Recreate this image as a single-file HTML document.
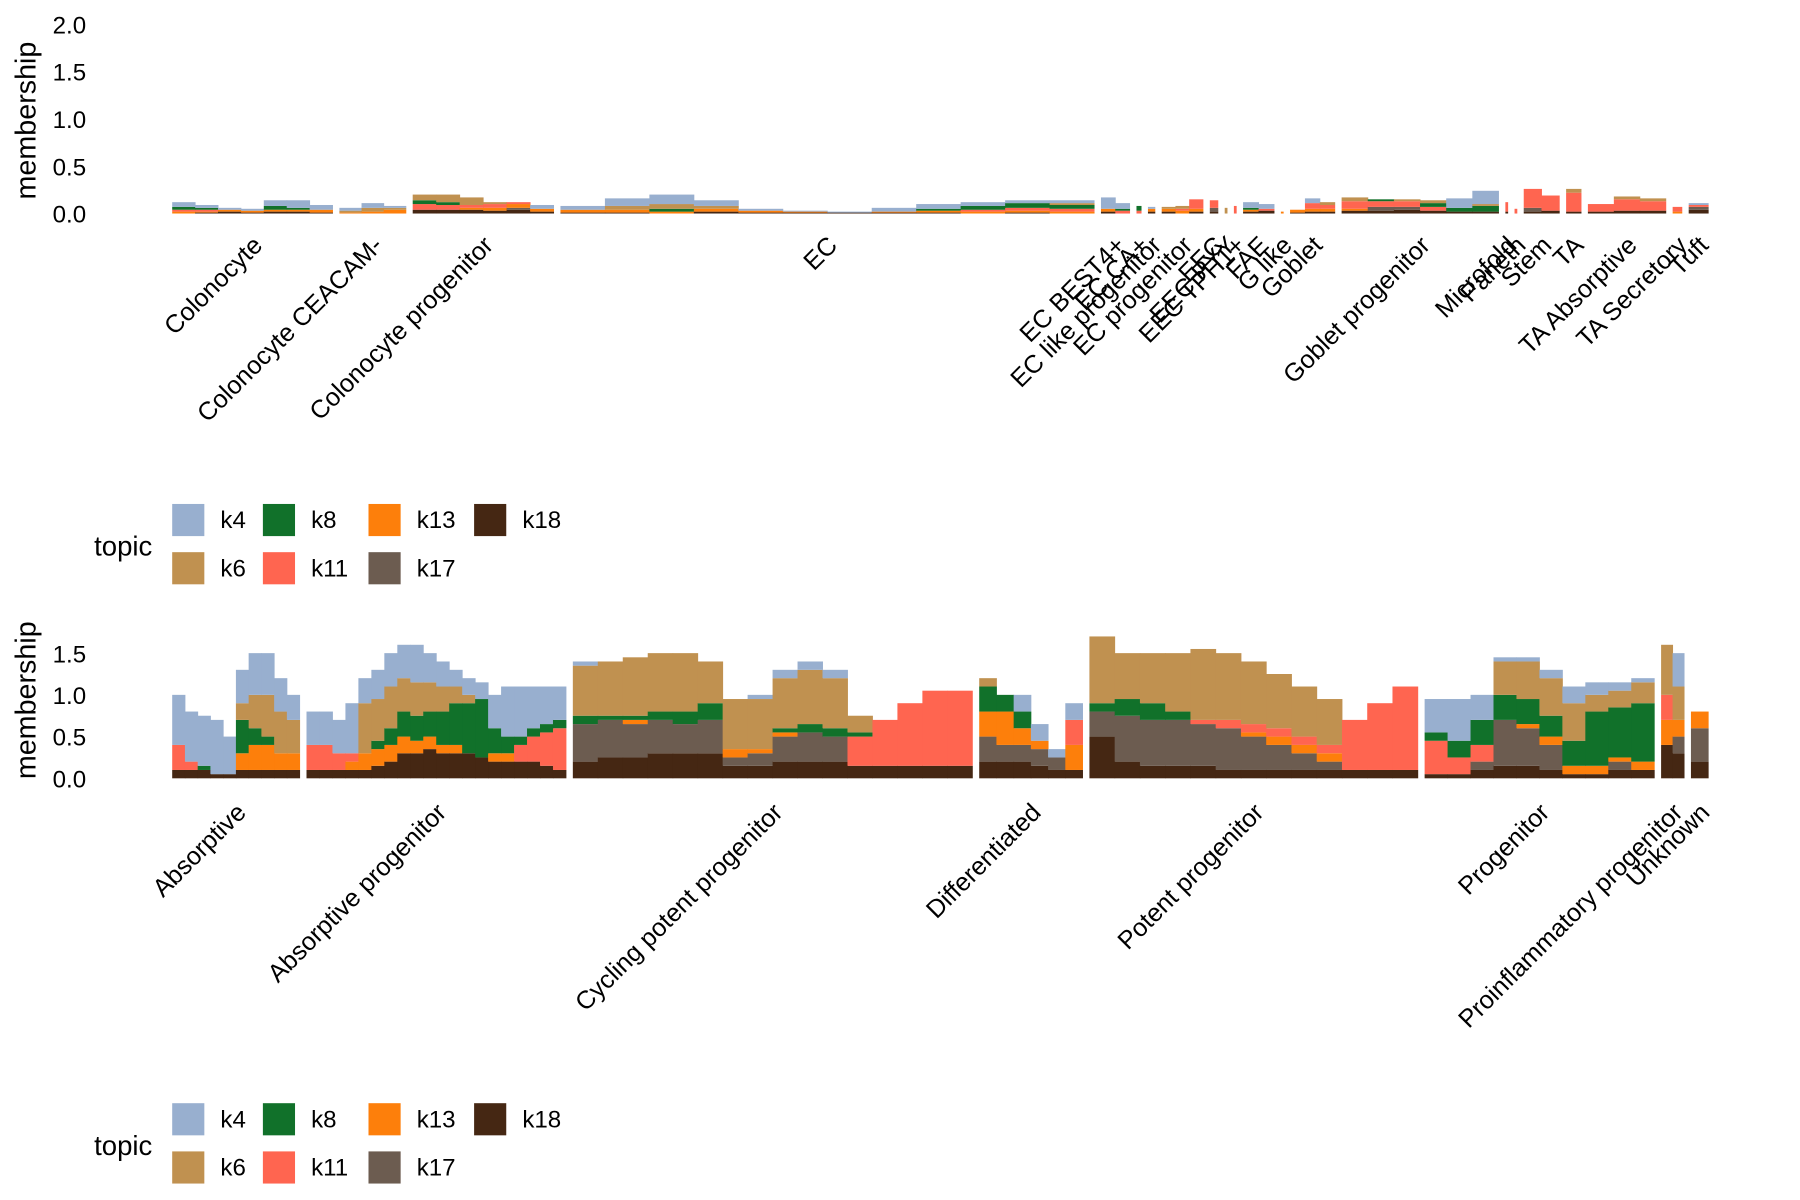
<!DOCTYPE html>
<html><head><meta charset="utf-8"><style>
html,body{margin:0;padding:0;background:#fff;}
svg{display:block;font-family:"Liberation Sans",Arial,sans-serif;}
</style></head><body>
<svg id="chart" width="1800" height="1200" viewBox="0 0 1568 1045.33" xmlns="http://www.w3.org/2000/svg">
<g id="top"></g>
<g id="bot"></g>
<g id="leg1"></g>
<g id="leg2"></g>
</svg>
<script>
const topics = ["k4","k6","k8","k11","k13","k17","k18"];
const topicColors = ["#98AFCF","#C09150","#11712A","#FF6550","#FD7F0B","#6C5C50","#452713"];
const stackOrder = ["k18","k17","k13","k11","k8","k6","k4"];
const legendOrder = [["k4","k6"],["k8","k11"],["k13","k17"],["k18"]];

// top panel data
const topGroups = ["Colonocyte","Colonocyte CEACAM-","Colonocyte progenitor","EC","EC BEST4+","EC CA+","EC like progenitor","EC progenitor","EEC","EEC PYY","EEC TPH1+","FAE","G like","Goblet","Goblet progenitor","Microfold","Paneth","Stem","TA","TA Absorptive","TA Secretory","Tuft"];
const topCounts = [140,58,123,466,25,4,6,36,7,2,2,27,2,39,137,2,2,31,13,68,8,17];
const topBins = [
 [{k4:.05,k8:.03,k11:.02,k13:.02},{k4:.03,k8:.02,k11:.02,k13:.01,k18:.01},{k4:.02,k13:.02,k18:.02},{k4:.02,k13:.02,k18:.01},{k4:.06,k8:.04,k13:.02,k18:.02},{k4:.08,k8:.02,k13:.02,k18:.02},{k4:.05,k13:.03,k18:.01}],
 [{k4:.03,k6:.02,k13:.01},{k4:.05,k6:.04,k13:.02},{k6:.02,k13:.04,k4:.02}],
 [{k11:.06,k8:.04,k6:.06,k18:.04},{k11:.05,k6:.08,k8:.03,k18:.04},{k6:.08,k11:.03,k18:.04,k13:.02},{k11:.04,k13:.03,k18:.03,k6:.02},{k13:.04,k18:.04,k17:.02,k11:.02},{k4:.04,k13:.03,k18:.02}],
 [{k4:.04,k13:.03,k18:.01},{k4:.08,k6:.04,k13:.03,k18:.01},{k4:.1,k6:.05,k8:.03,k13:.02},{k4:.06,k6:.03,k13:.03,k18:.02},{k4:.02,k13:.02,k18:.01},{k13:.01,k18:.01,k4:.01},{k4:.01,k18:.01},{k4:.04,k13:.01,k18:.01},{k4:.05,k8:.02,k13:.02,k18:.01},{k4:.04,k8:.04,k11:.02,k13:.02},{k4:.03,k8:.05,k11:.03,k13:.02,k18:.01},{k4:.03,k8:.04,k11:.03,k6:.02,k13:.02}],
 [{k4:.12,k13:.03,k18:.02},{k4:.06,k11:.03,k8:.02}],
 [{k8:.05,k11:.03}],
 [{k4:.02,k13:.03,k18:.02}],
 [{k13:.03,k6:.02,k18:.02},{k6:.03,k13:.03,k11:.02},{k11:.1,k13:.03,k18:.02}],
 [{k11:.08,k17:.04,k18:.02}],
 [{k6:.06}],
 [{k11:.08}],
 [{k4:.06,k8:.02,k18:.02,k13:.02},{k4:.05,k11:.02,k18:.03}],
 [{k13:.02}],
 [{k13:.03,k18:.01},{k4:.05,k11:.06,k13:.03,k18:.02},{k11:.04,k6:.03,k13:.03,k18:.02}],
 [{k11:.08,k6:.04,k18:.03,k13:.02},{k11:.06,k17:.04,k18:.03,k8:.02},{k11:.06,k17:.03,k18:.04,k6:.02},{k11:.04,k8:.04,k6:.03,k18:.03},{k4:.1,k8:.04,k18:.02},{k4:.14,k8:.06,k18:.02,k6:.02}],
 [{k11:.1,k18:.02}],
 [{k11:.05}],
 [{k11:.2,k17:.04,k18:.02},{k11:.16,k18:.03}],
 [{k11:.2,k6:.04,k18:.02}],
 [{k11:.08,k18:.02},{k11:.12,k6:.03,k18:.03},{k11:.1,k6:.03,k18:.03}],
 [{k11:.05,k13:.02}],
 [{k18:.04,k17:.03,k11:.02,k4:.02}]
];
const topTicks = [0,0.5,1,1.5,2];
const topTickLabels = ["0.0","0.5","1.0","1.5","2.0"];

// bottom panel data
const botGroups = ["Absorptive","Absorptive progenitor","Cycling potent progenitor","Differentiated","Potent progenitor","Progenitor","Proinflammatory progenitor","Unknown"];
const botCounts = [111,226,348,90,286,200,20,15];
const botBins = [
 [{k18:.1,k11:.3,k4:.6},{k18:.1,k11:.1,k4:.6},{k18:.1,k8:.05,k4:.6},{k18:.05,k4:.65},{k18:.05,k4:.45},{k18:.1,k13:.2,k8:.4,k6:.2,k4:.4},{k18:.1,k13:.3,k8:.2,k6:.4,k4:.5},{k18:.1,k13:.3,k8:.1,k6:.5,k4:.5},{k18:.1,k13:.2,k6:.5,k4:.4},{k18:.1,k13:.2,k6:.4,k4:.3}],
 [{k18:.1,k11:.3,k4:.4},{k18:.1,k11:.3,k4:.4},{k18:.1,k11:.2,k4:.4},{k18:.1,k13:.1,k11:.1,k4:.6},{k18:.1,k13:.2,k6:.6,k4:.3},{k18:.15,k13:.2,k8:.1,k6:.5,k4:.35},{k18:.2,k13:.2,k8:.2,k6:.5,k4:.4},{k18:.3,k13:.2,k8:.3,k6:.4,k4:.4},{k18:.3,k13:.15,k8:.3,k6:.4,k4:.45},{k18:.35,k13:.15,k8:.3,k6:.35,k4:.35},{k18:.3,k13:.1,k8:.4,k6:.3,k4:.3},{k18:.3,k13:.1,k8:.5,k6:.2,k4:.2},{k18:.3,k8:.6,k6:.1,k4:.2},{k18:.25,k8:.7,k4:.2},{k18:.2,k13:.1,k8:.3,k4:.4},{k18:.2,k13:.1,k8:.2,k4:.6},{k18:.2,k11:.2,k8:.1,k4:.6},{k18:.2,k11:.3,k8:.1,k4:.5},{k18:.15,k11:.4,k8:.1,k4:.45},{k18:.1,k11:.5,k8:.1,k4:.4}],
 [{k18:.2,k17:.45,k8:.1,k6:.6,k4:.05},{k18:.25,k17:.45,k8:.05,k6:.65},{k18:.25,k17:.4,k13:.05,k8:.05,k6:.7},{k18:.3,k17:.4,k8:.1,k6:.7},{k18:.3,k17:.35,k8:.15,k6:.7},{k18:.3,k17:.4,k8:.2,k6:.5},{k18:.15,k17:.1,k13:.1,k6:.6},{k18:.15,k17:.15,k13:.05,k6:.6,k4:.05},{k18:.2,k17:.3,k13:.05,k8:.05,k6:.6,k4:.1},{k18:.2,k17:.35,k8:.1,k6:.65,k4:.1},{k18:.2,k17:.3,k8:.1,k6:.6,k4:.1},{k18:.15,k11:.35,k8:.05,k6:.2},{k18:.15,k11:.55},{k18:.15,k11:.75},{k18:.15,k11:.9},{k18:.15,k11:.9}],
 [{k18:.2,k17:.3,k13:.3,k8:.3,k6:.1},{k18:.2,k17:.2,k13:.4,k8:.2},{k18:.2,k17:.2,k13:.2,k8:.2,k4:.2},{k18:.15,k17:.2,k13:.1,k4:.2},{k18:.1,k17:.15,k4:.1},{k18:.1,k11:.3,k13:.3,k4:.2}],
 [{k18:.5,k17:.3,k8:.1,k6:.8},{k18:.2,k17:.55,k8:.2,k6:.55},{k18:.15,k17:.55,k8:.2,k6:.6},{k18:.15,k17:.55,k8:.1,k6:.7},{k18:.15,k17:.5,k11:.05,k6:.85},{k18:.1,k17:.5,k11:.1,k6:.8},{k18:.1,k17:.4,k11:.1,k13:.05,k6:.75},{k18:.1,k17:.3,k11:.1,k13:.1,k6:.65},{k18:.1,k17:.2,k13:.1,k11:.1,k6:.6},{k18:.1,k17:.1,k11:.1,k13:.1,k6:.55},{k18:.1,k11:.6},{k18:.1,k11:.8},{k18:.1,k11:1.0}],
 [{k18:.05,k11:.4,k8:.1,k4:.4},{k18:.05,k11:.2,k8:.2,k4:.5},{k18:.1,k11:.2,k8:.3,k17:.1,k4:.3},{k18:.15,k17:.55,k8:.3,k6:.4,k4:.05},{k18:.15,k17:.45,k13:.05,k8:.3,k6:.45,k4:.05},{k18:.1,k17:.3,k13:.1,k8:.25,k6:.45,k4:.1},{k18:.05,k13:.1,k8:.3,k6:.45,k4:.2},{k18:.05,k13:.1,k8:.65,k6:.2,k4:.15},{k18:.1,k17:.1,k13:.05,k8:.6,k6:.2,k4:.1},{k18:.1,k13:.1,k8:.7,k6:.25,k4:.05}],
 [{k18:.4,k11:.3,k13:.3,k6:.6},{k18:.3,k17:.2,k13:.2,k6:.4,k4:.4}],
 [{k18:.2,k17:.4,k13:.2}]
];
const botTicks = [0,0.5,1,1.5];
const botTickLabels = ["0.0","0.5","1.0","1.5"];

const NS = "http://www.w3.org/2000/svg";
function mk(parent, tag, attrs, text){
  const e = document.createElementNS(NS, tag);
  for (const k in attrs) e.setAttribute(k, attrs[k]);
  if (text !== undefined) e.textContent = text;
  parent.appendChild(e);
  return e;
}
const colorOf = t => topicColors[topics.indexOf(t)];

function panel(g, groups, counts, bins, ticks, tickLabels, y0, pxPerUnit, labelDy, titleY){
  const x0 = 150, x1 = 1488;
  const total = counts.reduce((a,b)=>a+b,0);
  const gap = 6;
  const unit = (x1 - x0 - gap*(groups.length-1)) / total;
  const yScale = v => y0 - v*pxPerUnit;
  let cx = x0;
  groups.forEach((name, gi) => {
    const w = counts[gi]*unit;
    const gb = bins[gi];
    const bw = w / gb.length;
    const grp = mk(g, "g", {});
    
    
    gb.forEach((bin, bi) => {
      let acc = 0;
      stackOrder.forEach(t => {
        const v = bin[t] || 0;
        if (v <= 0) return;
        const yTop = yScale(acc + v), yBot = yScale(acc);
        const r = mk(grp, "rect", {x:(cx+bi*bw).toFixed(2), y:yTop.toFixed(2), width:(bw+0.4).toFixed(2), height:(yBot-yTop).toFixed(2), fill:colorOf(t)});
        
        
        acc += v;
      });
    });
    const center = cx + w/2;
    const ax = center + 10, ay = y0 + labelDy + 7;
    const lab = mk(g, "text", {x:ax, y:ay, "text-anchor":"end", "font-size":22, fill:"#000", transform:`rotate(-45 ${ax} ${ay})`}, name);
    
    
    cx += w + gap;
  });
  ticks.forEach((t, i) => {
    const tl = mk(g, "text", {x:75, y:(yScale(t)+8).toFixed(1), "text-anchor":"end", "font-size":21, fill:"#000"}, tickLabels[i]);
    
    
  });
  const tt = mk(g, "text", {x:0, y:0, "text-anchor":"middle", "font-size":25, fill:"#000", transform:`translate(31 ${titleY}) rotate(-90)`}, "membership");
  
  
}

panel(document.getElementById("top"), topGroups, topCounts, topBins, topTicks, topTickLabels, 186, 82.5, 22, 105);
panel(document.getElementById("bot"), botGroups, botCounts, botBins, botTicks, botTickLabels, 678, 72.7, 24, 610);

function legend(g, y){
  const tl = mk(g, "text", {x:82, y:y+45, "font-size":24, fill:"#000"}, "topic");
  
  
  const colX = [150, 229, 321, 413];
  legendOrder.forEach((col, ci) => {
    col.forEach((t, ri) => {
      const yy = y + ri*42;
      const sw = mk(g, "rect", {x:colX[ci], y:yy, width:28, height:28, fill:colorOf(t)});
      
      
      const lt = mk(g, "text", {x:colX[ci]+42, y:yy+21, "font-size":21, fill:"#000"}, t);
      
      
    });
  });
}
legend(document.getElementById("leg1"), 439);
legend(document.getElementById("leg2"), 961);
</script>
</body></html>
